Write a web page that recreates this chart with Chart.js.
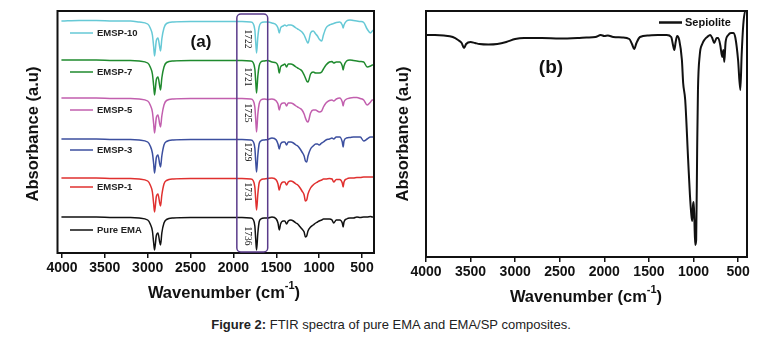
<!DOCTYPE html>
<html>
<head>
<meta charset="utf-8">
<script src="https://cdn.jsdelivr.net/npm/chart.js@4.4.1/dist/chart.umd.min.js"></script>
<style>
  body { margin: 0; background: #fff; width: 782px; height: 340px; position: relative; overflow: hidden; }
  #chartA { position: absolute; left: 0; top: 0; }
  #chartB { position: absolute; left: 390px; top: 0; }
  #caption { position: absolute; left: 0; top: 317px; width: 782px; text-align: center;
    font: 13px "Liberation Sans", Arial, sans-serif; color: #222; }
</style>
</head>
<body>
<canvas id="chartA" width="390" height="310"></canvas>
<canvas id="chartB" width="392" height="310"></canvas>
<div id="caption"><b>Figure 2:</b> FTIR spectra of pure EMA and EMA/SP composites.</div>
<script>
// ---- panel (a): EMA and EMA/SP composites (stacked, a.u.) ----
const wavenumberA = [4000, 3800, 3600, 3400, 3200, 3100, 3000, 2970, 2945, 2930,
  2920, 2900, 2880, 2860, 2850, 2835, 2810, 2780, 2700, 2500,
  2300, 2100, 1900, 1800, 1770, 1750, 1740, 1730, 1715, 1700,
  1680, 1640, 1600, 1550, 1500, 1480, 1465, 1450, 1420, 1400,
  1380, 1360, 1330, 1300, 1270, 1250, 1230, 1200, 1175, 1160,
  1145, 1130, 1100, 1070, 1040, 1020, 1000, 970, 950, 920,
  880, 850, 830, 800, 760, 730, 720, 710, 680, 640,
  600, 560, 520, 480, 440, 400, 380, 360];

const emsp10 = [232, 232.5, 232.5, 232, 232, 231, 229, 225, 218, 206,
  197, 212, 215, 206, 202, 214, 225, 229.5, 231, 231.5,
  231.5, 231.5, 231.5, 231, 229.5, 223, 211, 200, 216, 226,
  230, 231, 231, 230, 228, 225, 220, 225, 227, 228,
  227, 228, 228, 227, 225, 224, 223, 221, 218, 215,
  212, 210, 220, 222, 219, 217, 214, 212, 218, 225,
  228, 229, 229.5, 230.5, 231, 228, 225, 228, 232, 233,
  232.5, 232, 231.5, 230.5, 224, 220, 222, 223];

const emsp7 = [193, 193, 193, 192.5, 192.5, 192, 190, 186, 179, 167,
  158, 173, 176, 167, 163, 175, 186, 190.5, 192, 192.5,
  192.5, 192.5, 192.5, 192, 190.5, 184, 172, 160, 177, 187,
  191, 192, 192.5, 191, 190, 187, 180, 186, 188, 189,
  186, 189, 189, 188, 186, 185, 184, 182, 178, 175,
  172, 171, 179, 181, 180, 180, 180, 181, 184, 188,
  191, 191.5, 190, 191, 191, 187, 183, 187, 192, 193,
  192.5, 192, 191.5, 191, 186, 187, 188, 188];

const emsp5 = [155, 155, 155, 154.5, 154.5, 154, 152, 148, 141, 129,
  120, 135, 138, 129, 126, 137, 148, 152.5, 154, 154.5,
  154.5, 154.5, 154.5, 154, 152.5, 146, 134, 121, 139, 149,
  153, 154, 153.5, 154, 152, 149, 143, 148, 150, 150,
  147, 150, 150, 149, 147, 146, 145, 143, 139, 135,
  132, 131, 140, 143, 143, 142, 141, 142, 146, 150,
  152.5, 153, 152, 154, 155, 151, 147, 151, 154, 155,
  155.5, 155.5, 154.5, 153, 148, 151, 153, 153];

const emsp3 = [114, 114, 114, 113.5, 113.5, 113, 111, 107, 100, 89,
  80, 95, 98, 89, 86, 97, 108, 111.5, 113, 113.5,
  113.5, 113.5, 113.5, 113, 111.5, 105, 92, 81, 98, 109,
  112, 113, 113.5, 115, 113, 109, 104, 109, 111, 111,
  108, 111, 111, 110, 108, 107, 105, 101, 97, 92,
  91, 97, 104, 107, 109, 109, 108, 110, 111, 113,
  114, 115, 114, 116, 116, 111, 106, 112, 115, 115.5,
  116, 116, 116, 112, 114, 116, 116, 116];

const emsp1 = [75, 75, 75, 74.5, 74.5, 74, 72, 68, 61, 49,
  41, 56, 59, 50, 47, 58, 69, 72.5, 74, 74.5,
  74.5, 74.5, 74.5, 74, 72.5, 66, 54, 43, 59, 70,
  73, 74, 74.5, 75, 73, 69, 63, 68, 71, 71,
  68, 71, 72, 71, 69, 68, 66, 62, 58, 52,
  53, 59, 65, 68, 70, 71, 72, 73, 74, 74,
  74.5, 74, 71, 73.5, 73.5, 70, 66, 71, 74, 75,
  75, 75.5, 75.5, 76, 76, 76, 76, 76];

const pureEMA = [36, 36, 36, 35.5, 35.5, 35, 33, 29, 22, 10,
  3, 17, 20, 11, 8, 20, 30, 33.5, 35, 35.5,
  35.5, 35.5, 35.5, 35, 33.5, 27, 14, 3, 20, 31,
  34, 35, 35, 36, 34, 30, 23, 29, 32, 32,
  29, 32, 33, 32, 30, 29, 27, 24, 21, 16,
  17, 22, 26, 28, 30, 31, 32, 33, 34, 34,
  34, 33, 30, 33, 33, 30, 26, 31, 34, 35,
  35, 36, 35.5, 36, 36, 36.5, 36, 36];

const seriesNames = ['EMSP-10', 'EMSP-7', 'EMSP-5', 'EMSP-3', 'EMSP-1', 'Pure EMA'];
const seriesValues = [emsp10, emsp7, emsp5, emsp3, emsp1, pureEMA];
const carbonylPeaks = ['1722', '1721', '1725', '1729', '1731', '1736'];
const xTicks = [4000, 3500, 3000, 2500, 2000, 1500, 1000, 500];

// ---- panel (b): sepiolite ----
const wavenumberB = [4000, 3900, 3800, 3700, 3640, 3600, 3573, 3550, 3500, 3450,
  3400, 3300, 3200, 3100, 3000, 2900, 2700, 2500, 2300, 2200,
  2100, 2040, 2000, 1960, 1900, 1800, 1720, 1690, 1665, 1640,
  1600, 1500, 1400, 1300, 1250, 1230, 1215, 1200, 1183, 1160,
  1130, 1116, 1093, 1060, 1040, 1026, 1015, 1005, 998, 990,
  981, 970, 959, 950, 930, 902, 870, 846, 813, 790,
  768, 740, 723, 700, 678, 665, 655, 640, 610, 580,
  554, 530, 500, 475, 460, 442, 420, 400];
const sepiolite = [222, 222, 221.5, 220, 217, 214, 209, 213, 215, 214,
  213, 212.5, 213, 215, 218, 219, 219, 218.5, 219, 219.5,
  220, 222, 221, 221.5, 220, 219.5, 218, 213, 208, 214,
  220, 221.5, 222, 222, 220, 212, 207, 215, 221, 217,
  197, 174, 157, 97, 62, 44, 36, 52, 55, 37,
  12, 17, 107, 167, 202, 213, 218, 220, 222, 219,
  214, 219, 219, 212, 200, 207, 195, 215, 222, 224,
  224, 219, 197, 167, 202, 232, 246, 246];

const colors = ['#66c9d6', '#1f8a2e', '#c25fae', '#3c4f9f', '#e0302f', '#111111'];
const FONT = '"Liberation Sans", Arial, sans-serif';

function pts(xs, ys) {
  return xs.map((x, i) => ({ x: x, y: ys[i] }));
}

function drawXTitle(ctx, cx, cy, size) {
  const main = 'Wavenumber (cm', sup = '-1', tail = ')';
  ctx.font = 'bold ' + size + 'px ' + FONT;
  const w1 = ctx.measureText(main).width, w3 = ctx.measureText(tail).width;
  ctx.font = 'bold ' + Math.round(size * 0.68) + 'px ' + FONT;
  const w2 = ctx.measureText(sup).width;
  let x = cx - (w1 + w2 + w3) / 2;
  ctx.textAlign = 'left';
  ctx.textBaseline = 'middle';
  ctx.font = 'bold ' + size + 'px ' + FONT;
  ctx.fillText(main, x, cy);
  x += w1;
  ctx.font = 'bold ' + Math.round(size * 0.68) + 'px ' + FONT;
  ctx.fillText(sup, x, cy - size * 0.4);
  x += w2;
  ctx.font = 'bold ' + size + 'px ' + FONT;
  ctx.fillText(tail, x, cy);
}

function drawYTitle(ctx, cx, cy, size) {
  ctx.save();
  ctx.translate(cx, cy);
  ctx.rotate(-Math.PI / 2);
  ctx.font = 'bold ' + size + 'px ' + FONT;
  ctx.textAlign = 'center';
  ctx.textBaseline = 'middle';
  ctx.fillText('Absorbance (a.u)', 0, 0);
  ctx.restore();
}

function roundBox(ctx, x, y, w, h, r) {
  ctx.beginPath();
  ctx.moveTo(x + r, y);
  ctx.lineTo(x + w - r, y);
  ctx.arcTo(x + w, y, x + w, y + r, r);
  ctx.lineTo(x + w, y + h - r);
  ctx.arcTo(x + w, y + h, x + w - r, y + h, r);
  ctx.lineTo(x + r, y + h);
  ctx.arcTo(x, y + h, x, y + h - r, r);
  ctx.lineTo(x, y + r);
  ctx.arcTo(x, y, x + r, y, r);
  ctx.closePath();
  ctx.stroke();
}

const legendRowsA = [33, 72, 110, 150, 187, 230];
const peakRowsA = [39, 77, 113, 152, 192, 236];

const decorA = {
  id: 'decorA',
  afterDraw(chart) {
    const { ctx, chartArea: a, scales: { x } } = chart;
    ctx.save();
    ctx.strokeStyle = '#111';
    ctx.lineWidth = 2;
    ctx.strokeRect(a.left, a.top, a.right - a.left, a.bottom - a.top);

    // carbonyl box
    const bx1 = x.getPixelForValue(1960), bx2 = x.getPixelForValue(1600);
    ctx.strokeStyle = '#5a3b8b';
    ctx.lineWidth = 1.5;
    roundBox(ctx, bx1, 14, bx2 - bx1, 238, 4);

    ctx.fillStyle = '#111';
    ctx.font = '9.5px "Liberation Serif", "Times New Roman", serif';
    ctx.textAlign = 'center';
    ctx.textBaseline = 'middle';
    carbonylPeaks.forEach((p, i) => {
      ctx.save();
      ctx.translate(247, peakRowsA[i]);
      ctx.rotate(Math.PI / 2);
      ctx.fillText(p, 0, 0);
      ctx.restore();
    });

    // legend
    seriesNames.forEach((name, i) => {
      const y = legendRowsA[i];
      ctx.strokeStyle = colors[i];
      ctx.lineWidth = 1.5;
      ctx.beginPath();
      ctx.moveTo(70, y);
      ctx.lineTo(93, y);
      ctx.stroke();
      ctx.fillStyle = '#222';
      ctx.font = 'bold 9.5px ' + FONT;
      ctx.textAlign = 'left';
      ctx.fillText(name, 97, y);
    });

    ctx.fillStyle = '#111';
    ctx.font = 'bold 17px ' + FONT;
    ctx.textAlign = 'center';
    ctx.fillText('(a)', 201, 42);

    drawXTitle(ctx, 224, 293, 16.5);
    drawYTitle(ctx, 33, 134, 16.5);
    ctx.restore();
  }
};

const decorB = {
  id: 'decorB',
  afterDraw(chart) {
    const { ctx, chartArea: a } = chart;
    ctx.save();
    ctx.strokeStyle = '#111';
    ctx.lineWidth = 2;
    ctx.strokeRect(a.left, a.top, a.right - a.left, a.bottom - a.top);

    ctx.lineWidth = 2.5;
    ctx.beginPath();
    ctx.moveTo(269, 22.5);
    ctx.lineTo(292, 22.5);
    ctx.stroke();
    ctx.fillStyle = '#111';
    ctx.font = 'bold 11px ' + FONT;
    ctx.textAlign = 'left';
    ctx.textBaseline = 'middle';
    ctx.fillText('Sepiolite', 295, 22.5);

    ctx.font = 'bold 19px ' + FONT;
    ctx.textAlign = 'center';
    ctx.fillText('(b)', 161, 68);

    drawXTitle(ctx, 196, 297, 16.5);
    drawYTitle(ctx, 13, 134, 16.5);
    ctx.restore();
  }
};

function xScale(min, max, height) {
  return {
    type: 'linear', reverse: true, min: min, max: max,
    afterBuildTicks: s => { s.ticks = xTicks.map(v => ({ value: v })); },
    afterFit: s => { s.height = height; },
    grid: { display: true, drawOnChartArea: false, drawTicks: true, tickLength: 5, color: '#111', lineWidth: 1.5 },
    border: { display: false },
    ticks: {
      color: '#111', font: { family: FONT, size: 14, weight: 'bold' }, padding: 2,
      maxRotation: 0, autoSkip: false, callback: v => String(v)
    }
  };
}

const commonOpts = {
  responsive: false,
  animation: false,
  events: [],
  elements: { point: { radius: 0 }, line: { cubicInterpolationMode: 'monotone', borderCapStyle: 'round', borderJoinStyle: 'round' } },
  plugins: { legend: { display: false }, tooltip: { enabled: false } }
};

new Chart(document.getElementById('chartA'), {
  type: 'line',
  data: {
    datasets: seriesValues.map((vals, i) => ({
      label: seriesNames[i],
      data: pts(wavenumberA, vals),
      borderColor: colors[i],
      borderWidth: 1.5,
      fill: false
    }))
  },
  options: Object.assign({}, commonOpts, {
    layout: { padding: { left: 57.5, right: 16, top: 11, bottom: 0 } },
    scales: { x: xScale(360, 4052, 57), y: { display: false, min: 0, max: 242 } }
  }),
  plugins: [decorA]
});

new Chart(document.getElementById('chartB'), {
  type: 'line',
  data: {
    datasets: [{
      label: 'Sepiolite',
      data: pts(wavenumberB, sepiolite),
      borderColor: '#111',
      borderWidth: 2,
      fill: false
    }]
  },
  options: Object.assign({}, commonOpts, {
    layout: { padding: { left: 36, right: 35, top: 11, bottom: 0 } },
    scales: { x: xScale(400, 4000, 53), y: { display: false, min: 0, max: 246 } }
  }),
  plugins: [decorB]
});
</script>
</body>
</html>
